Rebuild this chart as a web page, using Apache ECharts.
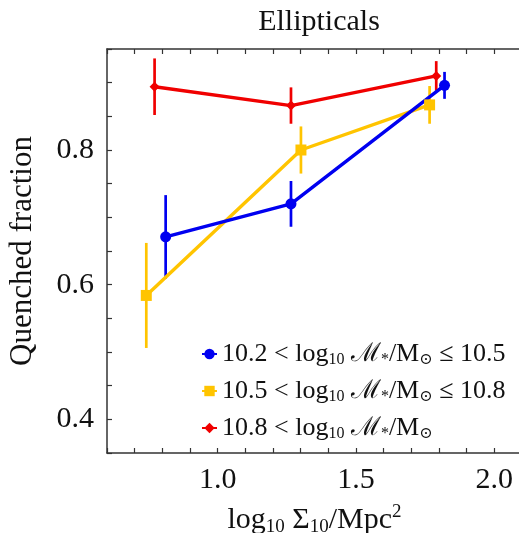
<!DOCTYPE html>
<html>
<head>
<meta charset="utf-8">
<script src="https://cdn.jsdelivr.net/npm/echarts@6/dist/echarts.min.js"></script>
<style>
  html, body { margin: 0; padding: 0; background: #fff; overflow: hidden; }
  #chart { width: 519px; height: 533px; }
</style>
</head>
<body>
<div id="chart"></div>
<script>
// Quenched fraction of ellipticals vs local density, in three stellar-mass bins
const lowMassX   = [0.812, 1.265, 1.820];
const lowMassY   = [0.671, 0.720, 0.896];
const lowMassErr = [0.062, 0.034, 0.020];

const midMassX   = [0.742, 1.301, 1.766];
const midMassY   = [0.584, 0.800, 0.867];
const midMassErr = [0.078, 0.035, 0.028];

const highMassX   = [0.772, 1.265, 1.790];
const highMassY   = [0.894, 0.866, 0.910];
const highMassErr = [0.042, 0.027, 0.022];

const xTickLabels = ['1.0', '1.5', '2.0'];
const yTickLabels = ['0.4', '0.6', '0.8'];

const seriesNames = ['low', 'mid', 'high'];
const seriesColors = ['#0000f0', '#ffc400', '#f00000'];

const FONT = '"Liberation Serif", "DejaVu Serif", serif';

const pts = (xs, ys) => xs.map((x, i) => [x, ys[i]]);
const bars = (xs, ys, es) => xs.map((x, i) => [x, ys[i] - es[i], ys[i] + es[i]]);

function errorSeries(color, data) {
  return {
    type: 'custom',
    name: 'errorbars',
    data: data,
    z: 3,
    renderItem: function (params, api) {
      const p1 = api.coord([api.value(0), api.value(1)]);
      const p2 = api.coord([api.value(0), api.value(2)]);
      return {
        type: 'line',
        shape: { x1: p1[0], y1: p1[1], x2: p2[0], y2: p2[1] },
        style: { stroke: color, lineWidth: 2.7 }
      };
    }
  };
}

function lineSeries(name, color, symbol, size, data) {
  return {
    type: 'line',
    name: name,
    data: data,
    symbol: symbol,
    symbolSize: size,
    z: 4,
    lineStyle: { color: color, width: 3.4 },
    itemStyle: { color: color },
    emphasis: { disabled: true }
  };
}

const near = (v, s) => Math.abs(v - parseFloat(s)) < 1e-6;

const axisTickStyle = { inside: true, length: 5, lineStyle: { color: '#333', width: 1.2 } };
const axisLineStyle = { show: true, lineStyle: { color: '#333', width: 1.5 } };

const legendLabels = {
  low:  '{n|10.2 < log}{s|10}{n| ℳ}{s|*}{n|/M}{s|⊙}{n| ≤ 10.5}',
  mid:  '{n|10.5 < log}{s|10}{n| ℳ}{s|*}{n|/M}{s|⊙}{n| ≤ 10.8}',
  high: '{n|10.8 < log}{s|10}{n| ℳ}{s|*}{n|/M}{s|⊙}'
};

const chart = echarts.init(document.getElementById('chart'), null, { renderer: 'canvas' });
chart.setOption({
  animation: false,
  backgroundColor: '#fff',
  title: {
    text: 'Ellipticals',
    left: 314, top: 2, textAlign: 'center',
    textStyle: { fontFamily: FONT, fontSize: 30, fontWeight: 'normal', color: '#111' }
  },
  grid: { left: 107, top: 49, width: 415, height: 404, containLabel: false, outerBoundsMode: 'none' },
  legend: {
    data: seriesNames,
    orient: 'vertical',
    left: 196, top: 336,
    itemWidth: 15, itemHeight: 13, itemGap: 10,
    formatter: name => legendLabels[name],
    textStyle: {
      fontFamily: FONT, color: '#111',
      rich: {
        n: { fontFamily: FONT, fontSize: 26, lineHeight: 28, color: '#111' },
        s: { fontFamily: FONT, fontSize: 16, lineHeight: 16, verticalAlign: 'bottom', color: '#111' }
      }
    }
  },
  xAxis: [{
    type: 'value', position: 'bottom', min: 0.6, max: 2.1, interval: 0.1,
    splitLine: { show: false },
    axisLine: axisLineStyle, axisTick: axisTickStyle,
    axisLabel: {
      margin: 12, fontFamily: FONT, fontSize: 30, color: '#111',
      formatter: v => { const t = xTickLabels.find(s => near(v, s)); return t || ''; }
    },
    name: '{n|log}{s|10}{n| Σ}{s|10}{n|/Mpc}{p|2}',
    nameLocation: 'middle', nameGap: 50,
    nameTextStyle: {
      rich: {
        n: { fontFamily: FONT, fontSize: 30, lineHeight: 34, color: '#111' },
        s: { fontFamily: FONT, fontSize: 19, lineHeight: 19, verticalAlign: 'bottom', color: '#111' },
        p: { fontFamily: FONT, fontSize: 19, lineHeight: 19, verticalAlign: 'top', color: '#111' }
      }
    }
  }, {
    type: 'value', position: 'top', min: 0.6, max: 2.1, interval: 0.1,
    splitLine: { show: false },
    axisLine: axisLineStyle, axisTick: axisTickStyle,
    axisLabel: { show: false }
  }],
  yAxis: [{
    type: 'value', min: 0.35, max: 0.95, interval: 0.05,
    splitLine: { show: false },
    axisLine: axisLineStyle, axisTick: axisTickStyle,
    axisLabel: {
      margin: 13, fontFamily: FONT, fontSize: 30, color: '#111',
      formatter: v => { const t = yTickLabels.find(s => near(v, s)); return t || ''; }
    },
    name: 'Quenched fraction',
    nameLocation: 'middle', nameGap: 69,
    nameTextStyle: { fontFamily: FONT, fontSize: 31, color: '#111' }
  }],
  series: [
    errorSeries(seriesColors[0], bars(lowMassX, lowMassY, lowMassErr)),
    errorSeries(seriesColors[1], bars(midMassX, midMassY, midMassErr)),
    errorSeries(seriesColors[2], bars(highMassX, highMassY, highMassErr)),
    lineSeries('mid', seriesColors[1], 'rect', 11, pts(midMassX, midMassY)),
    lineSeries('low', seriesColors[0], 'circle', 11, pts(lowMassX, lowMassY)),
    lineSeries('high', seriesColors[2], 'diamond', 10, pts(highMassX, highMassY))
  ]
});
</script>
</body>
</html>
